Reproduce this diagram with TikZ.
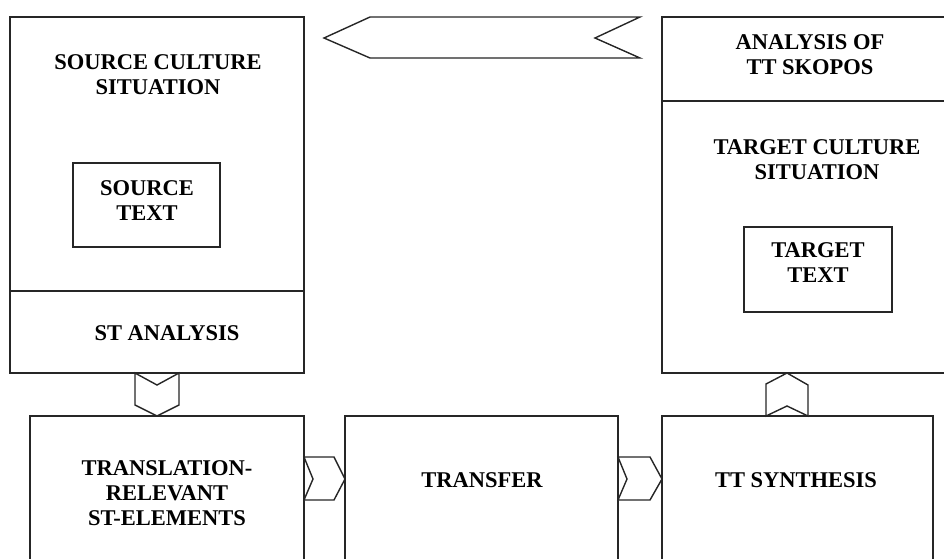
\documentclass[tikz,border=0pt]{standalone}
\usepackage{fontspec}
\setmainfont{Liberation Serif}
\usetikzlibrary{calc}
\tikzset{
  box/.style={draw=black!85, line width=1.5pt, inner sep=0pt, outer sep=0pt},
  lbl/.style={font=\bfseries\fontsize{22.5}{25}\selectfont, align=center, inner sep=0pt, text=black},
  conn/.style={draw=black!85, line width=1.4pt, line join=miter, fill=white}
}
\begin{document}
\begin{tikzpicture}[x=1pt,y=-1pt]
\useasboundingbox (0,0) rectangle (944,558);
\clip (0,0) rectangle (944,558);
% left column
\node[box, minimum width=294, minimum height=274] (scs) at (157,154) {};
\node[box, minimum width=294, minimum height=82] (sta) at (157,332) {};
\node[box, minimum width=147, minimum height=84] (stx) at (146.5,205) {};
% right column
\node[box, minimum width=284, minimum height=84] (ats) at (804,59) {};
\node[box, minimum width=284, minimum height=272] (tcs) at (804,237) {};
\node[box, minimum width=148, minimum height=85] (ttx) at (818,269.5) {};
% bottom row
\node[box, minimum width=274, minimum height=154] (tre) at (167,493) {};
\node[box, minimum width=273, minimum height=154] (trf) at (481.5,493) {};
\node[box, minimum width=271, minimum height=154] (tts) at (797.5,493) {};
% labels
\node[lbl] (l1) at (158,74.5) {SOURCE CULTURE\\SITUATION};
\node[lbl] (l2) at (147,200.5) {SOURCE\\TEXT};
\node[lbl] (l3) at (167,333) {ST ANALYSIS};
\node[lbl] (l4) at (810,54.5) {ANALYSIS OF\\TT SKOPOS};
\node[lbl] (l5) at (817,159.5) {TARGET CULTURE\\SITUATION};
\node[lbl] (l6) at (818,263) {TARGET\\TEXT};
\node[lbl] (l7) at (167,493) {TRANSLATION-\\RELEVANT\\ST-ELEMENTS};
\node[lbl] (l8) at (482,480) {TRANSFER};
\node[lbl] (l9) at (796,480) {TT SYNTHESIS};
% banner arrow
\draw[conn] (324,38) -- (370,17) -- (640,17) -- (595,38) -- (640,58) -- (370,58) -- cycle;
% down chevron: ST analysis -> translation-relevant elements
\draw[conn] ([xshift=-22pt]sta.south) -- ++(22,12) -- ++(22,-12) -- ++(0,32)
  -- (sta.south |- tre.north) -- ++(-22,-11) -- cycle;
% right chevrons
\draw[conn] (tre.north east |- 0,457) -- ++(30,0) -- ++(11,22) -- ++(-11,21)
  -- (tre.north east |- 0,500) -- ++(9,-21) -- cycle;
\draw[conn] (trf.north east |- 0,457) -- ++(32,0) -- ++(12,22) -- ++(-12,21)
  -- (trf.north east |- 0,500) -- ++(9,-21) -- cycle;
% up chevron: TT synthesis -> target culture
\coordinate (upc) at (tts.north -| 787,0);
\draw[conn] ([xshift=-21pt]upc) -- ++(21,-10) -- ++(21,10) -- ++(0,-31)
  -- (upc |- tcs.south) -- ++(-21,11) -- cycle;
\end{tikzpicture}
\end{document}
